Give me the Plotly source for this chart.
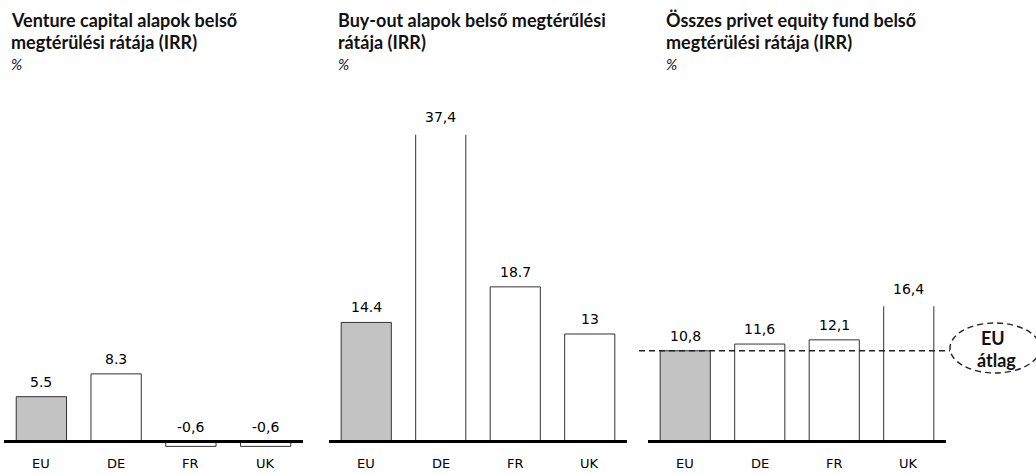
import plotly.graph_objects as go

W, H = 1036, 475

# Country categories shared by all three panels
countries = ["EU", "DE", "FR", "UK"]

# Internal rate of return (%) per fund type
vc_irr = [5.5, 8.3, -0.6, -0.6]
buyout_irr = [14.4, 37.4, 18.7, 13.0]
total_irr = [10.8, 11.6, 12.1, 16.4]

# Printed value labels
vc_labels = ["5.5", "8.3", "-0,6", "-0,6"]
buyout_labels = ["14.4", "37,4", "18.7", "13"]
total_labels = ["10,8", "11,6", "12,1", "16,4"]

panel_titles = [
    ("Venture capital alapok belső", "megtérülési rátája (IRR)"),
    ("Buy-out alapok belső megtérűlési", "rátája (IRR)"),
    ("Összes privet equity fund belső", "megtérülési rátája (IRR)"),
]
unit_label = "%"
avg_label = ("EU", "átlag")

series = [vc_irr, buyout_irr, total_irr]
labels = [vc_labels, buyout_labels, total_labels]

# Panel geometry in pixels
x_px = [(4, 303), (329, 627), (648, 946)]
title_x = [10, 337, 665]
base_px = 441.5       # pixel row of the zero line
bottom_px = 448       # bottom of each plotting area
scale = [8.15, 8.27, 8.4]   # pixels per percentage point
clip_top = [False, True, True]  # panels whose tallest bar runs past the frame
overrun_px = 2.5

fill_colors = ["#c3c3c3", "#ffffff", "#ffffff", "#ffffff"]
line_color = "#333333"
label_font = dict(family="DejaVu Sans", size=14, color="#000000")
cat_font = dict(family="DejaVu Sans", size=13, color="#000000")
title_font = dict(family="Lato", size=18, color="#111111")
unit_font = dict(family="Lato", size=15, color="#111111")
callout_font = dict(family="Lato", size=18, color="#111111")

fig = go.Figure()
layout = dict(
    width=W, height=H, margin=dict(l=0, r=0, t=0, b=0),
    paper_bgcolor="white", plot_bgcolor="rgba(0,0,0,0)",
    showlegend=False, bargap=0.327,
)
annotations = []
shapes = []

for i, (vals, labs) in enumerate(zip(series, labels)):
    n = i + 1
    xa = "x" if n == 1 else f"x{n}"
    ya = "y" if n == 1 else f"y{n}"
    s = scale[i]
    y_lo = -(bottom_px - base_px) / s
    if clip_top[i]:
        y_hi = max(vals) - overrun_px / s
        top_px = base_px - y_hi * s
    else:
        top_px = 0
        y_hi = base_px / s
    dom_y = [(H - bottom_px) / H, (H - top_px) / H]

    fig.add_trace(go.Bar(
        x=countries, y=vals, xaxis=xa, yaxis=ya,
        marker=dict(color=fill_colors, line=dict(color=line_color, width=1)),
        hoverinfo="skip",
    ))

    layout[f"xaxis{'' if n == 1 else n}"] = dict(
        domain=[x_px[i][0] / W, x_px[i][1] / W], anchor=ya,
        range=[-0.5, 3.5], showgrid=False, zeroline=False, showline=False,
        ticks="", showticklabels=False, fixedrange=True,
    )
    layout[f"yaxis{'' if n == 1 else n}"] = dict(
        domain=dom_y, anchor=xa, range=[y_lo, y_hi],
        showgrid=False, zeroline=False, showline=False,
        showticklabels=False, ticks="", fixedrange=True,
    )

    # zero line
    shapes.append(dict(
        type="line", xref=f"{xa} domain", yref=ya, x0=0, x1=1, y0=0, y1=0,
        line=dict(color="black", width=3), layer="above",
    ))

    def dom_frac(v):
        # position of a data value within the y-axis domain (may exceed 1)
        return (v - y_lo) / (y_hi - y_lo)

    for c, v, t in zip(countries, vals, labs):
        annotations.append(dict(
            x=c, y=dom_frac(max(v, 0)), xref=xa, yref=f"{ya} domain", text=t,
            showarrow=False, yanchor="middle", yshift=15, font=label_font,
        ))
        annotations.append(dict(
            x=c, y=dom_frac(0), xref=xa, yref=f"{ya} domain", text=c,
            showarrow=False, yanchor="middle", yshift=-22, font=cat_font,
        ))

    l1, l2 = panel_titles[i]
    for txt, ypx, fnt, italic in [(l1, 20, title_font, False),
                                  (l2, 42, title_font, False),
                                  (unit_label, 64, unit_font, True)]:
        annotations.append(dict(
            x=title_x[i] / W, y=1 - ypx / H, xref="paper", yref="paper",
            xanchor="left", yanchor="middle", showarrow=False, borderpad=0,
            text=(f"<i>{txt}</i>" if italic else f"<b>{txt}</b>"), font=fnt,
        ))

# EU average reference line across the third panel
eu_avg = total_irr[0]
shapes.append(dict(
    type="line", xref="paper", yref="y3", x0=639 / W, x1=950 / W,
    y0=eu_avg, y1=eu_avg, layer="above",
    line=dict(color="#222222", width=1.4, dash="6px,4px"),
))
# callout ellipse
shapes.append(dict(
    type="circle", xref="paper", yref="paper",
    x0=950 / W, x1=1040 / W, y0=1 - 373 / H, y1=1 - 323 / H,
    line=dict(color="#222222", width=1.4, dash="6px,4px"),
))
annotations.append(dict(
    x=993 / W, y=1 - 338 / H, xref="paper", yref="paper", showarrow=False,
    borderpad=0, text=f"<b>{avg_label[0]}</b>", font=callout_font,
    xanchor="center", yanchor="middle",
))
annotations.append(dict(
    x=996 / W, y=1 - 360 / H, xref="paper", yref="paper", showarrow=False,
    borderpad=0, text=f"<b>{avg_label[1]}</b>", font=callout_font,
    xanchor="center", yanchor="middle",
))

layout["annotations"] = annotations
layout["shapes"] = shapes
fig.update_layout(**layout)
fig.write_html("out.html")
